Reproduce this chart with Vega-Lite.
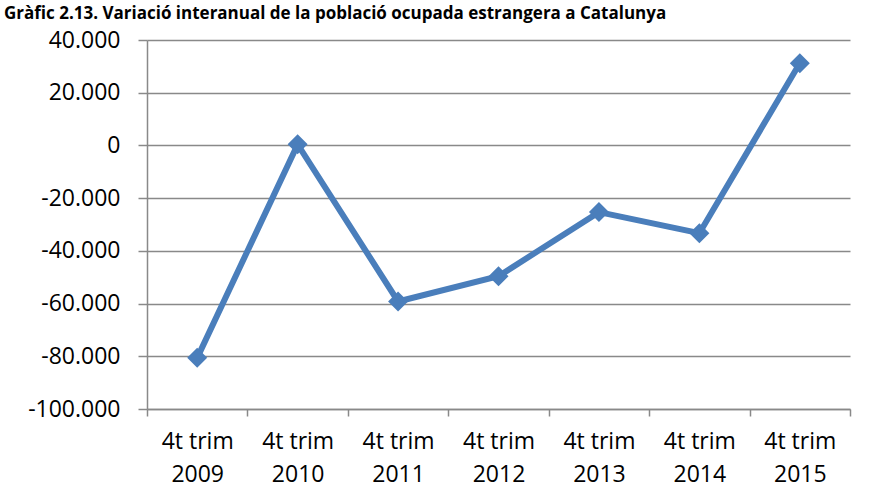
{
  "$schema": "https://vega.github.io/schema/vega-lite/v6.json",
  "autosize": {"type": "none"},
  "width": 703,
  "height": 369,
  "padding": {"left": 147, "top": 40, "right": 19, "bottom": 90},
  "background": "white",
  "title": {
    "text": "Gràfic 2.13. Variació interanual de la població ocupada estrangera a Catalunya",
    "anchor": "start",
    "frame": "group",
    "dx": -143,
    "offset": -7,
    "baseline": "alphabetic",
    "font": "Open Sans",
    "fontSize": 17,
    "fontWeight": "bold",
    "color": "black"
  },
  "config": {
    "locale": {"number": {"decimal": ",", "thousands": ".", "grouping": [3], "currency": ["", " €"], "minus": "-"}},
    "view": {"stroke": null},
    "axis": {
      "labelFont": "Open Sans",
      "labelFontSize": 23,
      "labelColor": "black",
      "domainColor": "#898989",
      "domainWidth": 1.5,
      "tickColor": "#898989",
      "tickWidth": 1.5,
      "gridColor": "#898989",
      "gridWidth": 1.5,
      "title": null
    }
  },
  "data": {
    "values": [
      {"periode": "4t trim 2009", "variacio": -80600},
      {"periode": "4t trim 2010", "variacio": 400},
      {"periode": "4t trim 2011", "variacio": -59200},
      {"periode": "4t trim 2012", "variacio": -49600},
      {"periode": "4t trim 2013", "variacio": -25300},
      {"periode": "4t trim 2014", "variacio": -33300},
      {"periode": "4t trim 2015", "variacio": 31200}
    ]
  },
  "encoding": {
    "x": {
      "field": "periode",
      "type": "nominal",
      "sort": null,
      "scale": {"type": "band", "paddingInner": 0, "paddingOuter": 0},
      "axis": {
        "labelAngle": 0,
        "tickBand": "extent",
        "tickSize": 7,
        "labelPadding": 14,
        "labelLineHeight": 33,
        "labelBaseline": "top",
        "labelExpr": "[substring(datum.label, 0, 7), substring(datum.label, 8)]",
        "grid": false
      }
    },
    "y": {
      "field": "variacio",
      "type": "quantitative",
      "scale": {"domain": [-100000, 40000], "nice": false, "zero": false},
      "axis": {
        "values": [-100000, -80000, -60000, -40000, -20000, 0, 20000, 40000],
        "format": ",d",
        "tickSize": 9,
        "labelPadding": 18,
        "grid": true
      }
    }
  },
  "layer": [
    {"mark": {"type": "line", "color": "#4A7EBB", "strokeWidth": 6}},
    {"mark": {"type": "point", "shape": "diamond", "filled": true, "size": 400, "color": "#4A7EBB", "opacity": 1}}
  ]
}
